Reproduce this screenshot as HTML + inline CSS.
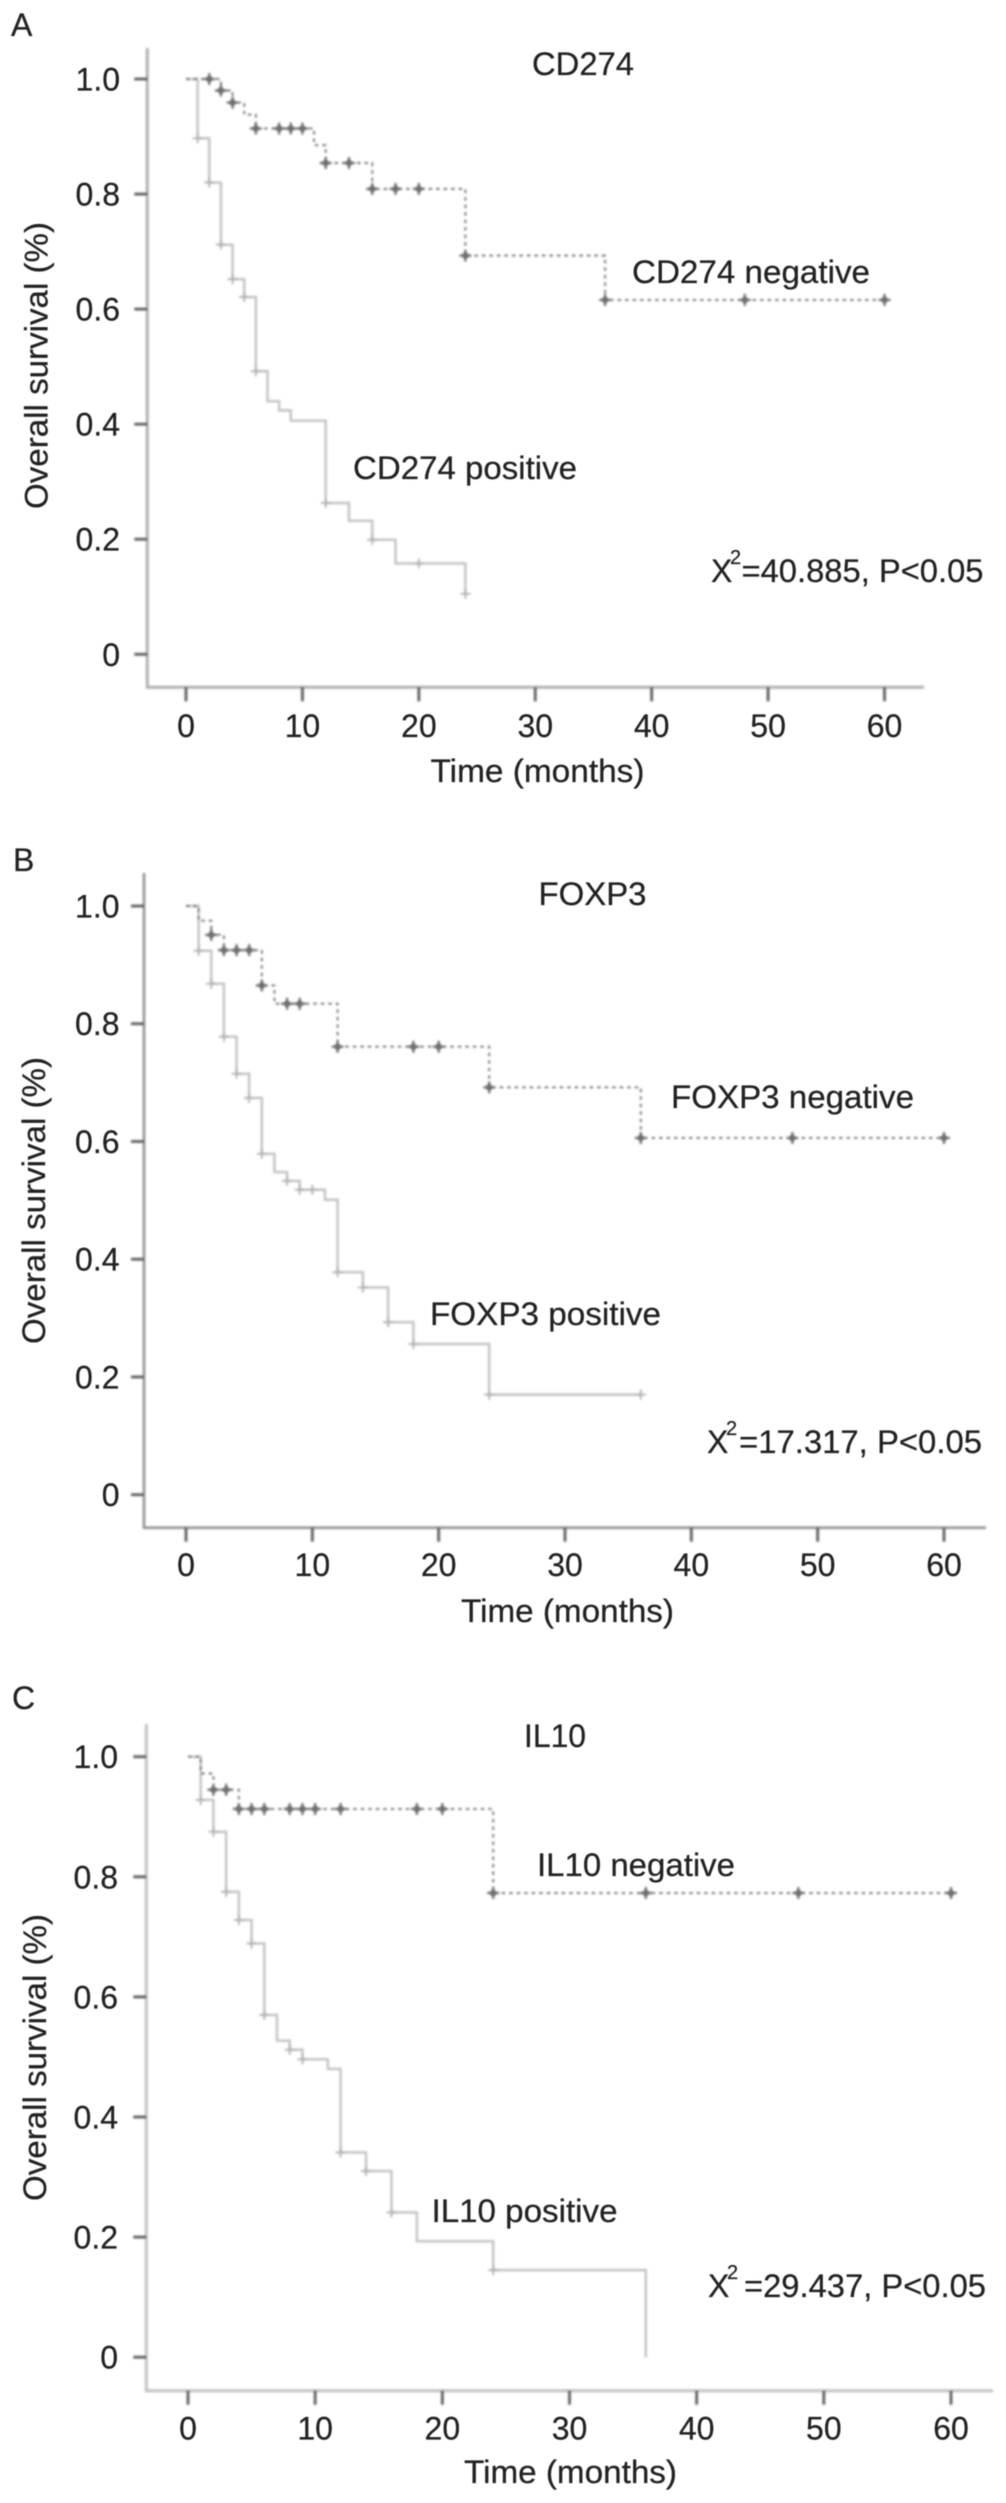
<!DOCTYPE html>
<html lang="en">
<head>
<meta charset="utf-8">
<title>Kaplan-Meier overall survival curves</title>
<style>
  html, body { margin: 0; padding: 0; background: #fff; }
  body { width: 1006px; height: 2503px; overflow: hidden; }
  svg { display: block; }
  text { font-family: "Liberation Sans", Arial, sans-serif; font-size: 32px; fill: #222; stroke: #222; stroke-width: 0.25px; }
  .labels { filter: blur(0.6px); }
  .marks { filter: blur(1px); }
  .neg-line { fill: none; stroke: #777; stroke-width: 1.9; stroke-dasharray: 3.5 4; }
  .pos-line { fill: none; stroke: #c2c2c2; stroke-width: 2.4; }
  .neg-mark { fill: #6a6a6a; stroke: #6e6e6e; stroke-width: 2.2; }
  .pos-mark { fill: none; stroke: #b0b0b0; stroke-width: 1.8; }
  .tick { stroke: #5e5e5e; stroke-width: 2.8; }
</style>
</head>
<body>
<svg id="figure" xmlns="http://www.w3.org/2000/svg" width="1006" height="2503" viewBox="0 0 1006 2503">
  <rect width="1006" height="2503" fill="#fff"/>
  <g id="plots" class="marks"></g>
  <g class="labels">
    <g id="ticklabels"></g>

    <text x="11" y="36">A</text>
    <text x="532" y="75" textLength="102" lengthAdjust="spacingAndGlyphs">CD274</text>
    <text x="632" y="283" textLength="238" lengthAdjust="spacingAndGlyphs">CD274 negative</text>
    <text x="353" y="479" textLength="224" lengthAdjust="spacingAndGlyphs">CD274 positive</text>
    <text><tspan x="711" y="582">X</tspan><tspan x="730" y="564" style="font-size:20px">2</tspan><tspan x="741.5" y="582" textLength="242" lengthAdjust="spacingAndGlyphs">=40.885, P&lt;0.05</tspan></text>
    <text x="430.5" y="782" textLength="214" lengthAdjust="spacingAndGlyphs">Time (months)</text>
    <text transform="translate(47.5 509) rotate(-90)" textLength="287" lengthAdjust="spacingAndGlyphs">Overall survival (%)</text>

    <text x="13" y="871">B</text>
    <text x="538.5" y="905" textLength="108" lengthAdjust="spacingAndGlyphs">FOXP3</text>
    <text x="671" y="1108" textLength="243" lengthAdjust="spacingAndGlyphs">FOXP3 negative</text>
    <text x="430" y="1325" textLength="231" lengthAdjust="spacingAndGlyphs">FOXP3 positive</text>
    <text><tspan x="707" y="1453">X</tspan><tspan x="726" y="1435" style="font-size:20px">2</tspan><tspan x="739" y="1453" textLength="243" lengthAdjust="spacingAndGlyphs">=17.317, P&lt;0.05</tspan></text>
    <text x="461" y="1622" textLength="213" lengthAdjust="spacingAndGlyphs">Time (months)</text>
    <text transform="translate(45 1344) rotate(-90)" textLength="287" lengthAdjust="spacingAndGlyphs">Overall survival (%)</text>

    <text x="12" y="1709">C</text>
    <text x="524" y="1747" textLength="62" lengthAdjust="spacingAndGlyphs">IL10</text>
    <text x="537" y="1876" textLength="198" lengthAdjust="spacingAndGlyphs">IL10 negative</text>
    <text x="431.5" y="2222" textLength="186" lengthAdjust="spacingAndGlyphs">IL10 positive</text>
    <text><tspan x="708" y="2297">X</tspan><tspan x="727" y="2279" style="font-size:20px">2</tspan><tspan x="744" y="2297" textLength="242" lengthAdjust="spacingAndGlyphs">=29.437, P&lt;0.05</tspan></text>
    <text x="464" y="2483" textLength="213" lengthAdjust="spacingAndGlyphs">Time (months)</text>
    <text transform="translate(46 2201) rotate(-90)" textLength="287" lengthAdjust="spacingAndGlyphs">Overall survival (%)</text>
  </g>
</svg>
<script>
// Shared axis ticks
var xTickValues = [0, 10, 20, 30, 40, 50, 60];
var yTickValues = [0, 0.2, 0.4, 0.6, 0.8, 1.0];
var yTickLabels = ['0', '0.2', '0.4', '0.6', '0.8', '1.0'];

// Panel A: CD274
var aNegMonths = [3, 4, 5, 6, 11, 12, 16, 24, 36];
var aNegSurvival = [0.98, 0.959, 0.938, 0.914, 0.885, 0.854, 0.809, 0.693, 0.616];
var aNegCensored = [2, 3, 4, 6, 8, 9, 10, 12, 14, 16, 18, 20, 24, 36, 48, 60];
var aNegEnd = 60;
var aPosMonths = [1, 2, 3, 4, 5, 6, 7, 8, 9, 12, 14, 16, 18, 24];
var aPosSurvival = [0.897, 0.82, 0.712, 0.652, 0.621, 0.492, 0.44, 0.424, 0.406, 0.263, 0.232, 0.199, 0.158, 0.105];
var aPosCensored = [1, 2, 3, 4, 5, 6, 12, 16, 20, 24];
var aPosEnd = 24;

// Panel B: FOXP3
var bNegMonths = [1, 2, 3, 6, 7, 12, 24, 36];
var bNegSurvival = [0.975, 0.951, 0.925, 0.865, 0.834, 0.761, 0.692, 0.606];
var bNegCensored = [2, 3, 4, 5, 6, 8, 9, 12, 18, 20, 24, 36, 48, 60];
var bNegEnd = 60;
var bPosMonths = [1, 2, 3, 4, 5, 6, 7, 8, 9, 11, 12, 14, 16, 18, 24];
var bPosSurvival = [0.924, 0.868, 0.778, 0.715, 0.674, 0.579, 0.548, 0.533, 0.518, 0.501, 0.378, 0.352, 0.293, 0.256, 0.17];
var bPosCensored = [1, 2, 3, 4, 5, 6, 8, 9, 10, 12, 14, 16, 18, 24, 36];
var bPosEnd = 36;

// Panel C: IL10
var cNegMonths = [1, 2, 4, 24];
var cNegSurvival = [0.972, 0.945, 0.913, 0.773];
var cNegCensored = [2, 3, 4, 5, 6, 8, 9, 10, 12, 18, 20, 24, 36, 48, 60];
var cNegEnd = 60;
var cPosMonths = [1, 2, 3, 4, 5, 6, 7, 8, 9, 11, 12, 14, 16, 18, 24, 36];
var cPosSurvival = [0.928, 0.875, 0.775, 0.728, 0.689, 0.57, 0.527, 0.512, 0.496, 0.48, 0.341, 0.31, 0.241, 0.193, 0.145, 0];
var cPosCensored = [1, 2, 3, 4, 5, 6, 8, 9, 12, 14, 16, 24];
var cPosEnd = 36;

var panels = [
  { id: 'a', x0: 186, x60: 884.5, y1: 79, y0: 654.3, axisX: 147.3, axisY: 687.3, top: 48, right: 924, labelRight: 120, xLabelY: 737, axisColor: '#b0b0b0', axisWidth: 3,
    neg: [aNegMonths, aNegSurvival, aNegCensored, aNegEnd], pos: [aPosMonths, aPosSurvival, aPosCensored, aPosEnd] },
  { id: 'b', x0: 186, x60: 944, y1: 906, y0: 1494.7, axisX: 144, axisY: 1527.7, top: 873, right: 986, labelRight: 119.5, xLabelY: 1576, axisColor: '#929292', axisWidth: 2.6,
    neg: [bNegMonths, bNegSurvival, bNegCensored, bNegEnd], pos: [bPosMonths, bPosSurvival, bPosCensored, bPosEnd] },
  { id: 'c', x0: 188, x60: 951, y1: 1756.7, y0: 2357.2, axisX: 146.3, axisY: 2390.7, top: 1724, right: 993, labelRight: 118, xLabelY: 2439.5, axisColor: '#c2c2c2', axisWidth: 3,
    neg: [cNegMonths, cNegSurvival, cNegCensored, cNegEnd], pos: [cPosMonths, cPosSurvival, cPosCensored, cPosEnd] }
];

var NS = 'http://www.w3.org/2000/svg';
var plotLayer = document.getElementById('plots');
var tickLayer = document.getElementById('ticklabels');

function node(tag, parent, attrs) {
  var el = document.createElementNS(NS, tag);
  Object.keys(attrs).forEach(function (k) { el.setAttribute(k, attrs[k]); });
  parent.appendChild(el);
  return el;
}

function survivalAt(series, month) {
  var value = 1;
  series[0].forEach(function (m, i) { if (m <= month) { value = series[1][i]; } });
  return value;
}

panels.forEach(function (p) {
  function xScale(m) { return p.x0 + (p.x60 - p.x0) * m / 60; }
  function yScale(v) { return p.y0 + (p.y1 - p.y0) * v; }

  var group = node('g', plotLayer, {});
  
  

  var axes = node('path', group, {
    d: 'M' + p.axisX + ' ' + p.top + 'V' + p.axisY + 'H' + p.right,
    fill: 'none', stroke: p.axisColor, 'stroke-width': p.axisWidth
  });
  
  

  xTickValues.forEach(function (t) {
    var x = xScale(t);
    var tick = node('line', group, { x1: x, x2: x, y1: p.axisY, y2: p.axisY + 14, 'class': 'tick' });
    
    
    var label = node('text', tickLayer, { x: x, y: p.xLabelY, 'text-anchor': 'middle' });
    label.textContent = String(t);
    
    
  });

  yTickValues.forEach(function (t, i) {
    var y = yScale(t);
    var tick = node('line', group, { x1: p.axisX - 13, x2: p.axisX, y1: y, y2: y, 'class': 'tick' });
    
    
    var label = node('text', tickLayer, { x: p.labelRight, y: y + 11.5, 'text-anchor': 'end' });
    label.textContent = yTickLabels[i];
    
    
  });

  [['pos', p.pos], ['neg', p.neg]].forEach(function (entry) {
    var kind = entry[0];
    var series = entry[1];
    var d = 'M' + xScale(0) + ' ' + yScale(1);
    series[0].forEach(function (m, i) {
      d += 'H' + xScale(m) + 'V' + yScale(series[1][i]);
    });
    d += 'H' + xScale(series[3]);
    var line = node('path', group, { d: d, 'class': kind + '-line' });
    
    

    var size = kind === 'neg' ? 6 : 5;
    series[2].forEach(function (m) {
      var x = xScale(m);
      var y = yScale(survivalAt(series, m));
      var shape = 'M' + (x - size) + ' ' + y + 'H' + (x + size) + 'M' + x + ' ' + (y - size) + 'V' + (y + size);
      if (kind === 'neg') {
        shape += 'M' + (x - 3) + ' ' + y + 'L' + x + ' ' + (y - 3) + 'L' + (x + 3) + ' ' + y + 'L' + x + ' ' + (y + 3) + 'Z';
      }
      var mark = node('path', group, { d: shape, 'class': kind + '-mark' });
      
      
    });
  });
});
</script>
</body>
</html>
